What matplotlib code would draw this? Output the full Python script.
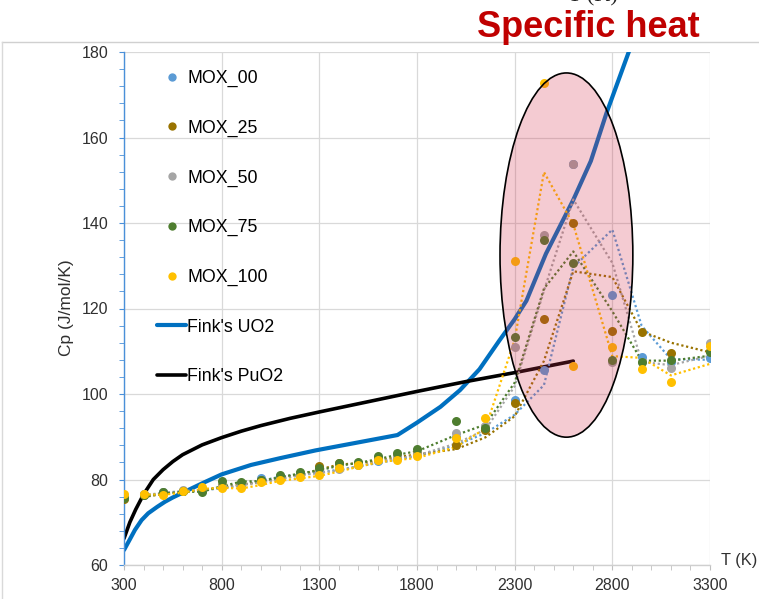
import matplotlib

matplotlib.use("Agg")
import matplotlib.pyplot as plt  # noqa: E402
import pandas as pd  # noqa: E402
from matplotlib.lines import Line2D  # noqa: E402
from matplotlib.patches import Ellipse  # noqa: E402

# measured temperatures (K)
temps = [300, 400, 500, 600, 700, 800, 900, 1000, 1100, 1200, 1300, 1400, 1500,
         1600, 1700, 1800, 2000, 2150, 2300, 2450, 2600, 2800, 2950, 3100, 3300]

# Cp (J/mol/K) for each MOX composition
mox_00 = [76.0, 76.6, 77.0, 77.4, 77.6, 78.3, 79.0, 80.4, 80.9, 81.3, 81.9, 82.7, 83.4,
          84.3, 85.0, 86.0, 90.0, 91.7, 98.6, 105.6, 153.7, 123.2, 108.7, 107.6, 108.4]
mox_25 = [75.4, 76.4, 76.8, 77.3, 77.8, 78.6, 79.0, 79.8, 80.7, 81.5, 83.2, 83.8, 83.8,
          84.9, 85.6, 86.1, 88.1, 91.6, 98.0, 117.5, 139.9, 114.8, 114.5, 109.5, 110.0]
mox_50 = [75.9, 76.7, 77.1, 77.5, 77.6, 78.4, 79.0, 79.6, 80.6, 81.3, 81.8, 82.4, 83.8,
          84.6, 85.2, 86.0, 90.8, 92.5, 111.1, 137.2, 153.8, 107.5, 107.5, 106.0, 111.9]
mox_75 = [75.6, 76.4, 77.0, 77.2, 77.1, 79.7, 79.3, 80.0, 81.1, 81.7, 82.6, 83.8, 84.0,
          85.5, 86.1, 87.1, 93.7, 92.0, 113.3, 136.0, 130.7, 108.0, 107.6, 108.0, 109.9]
mox_100 = [76.5, 76.5, 76.4, 77.4, 78.2, 77.9, 77.9, 79.5, 79.9, 80.6, 81.1, 82.6, 83.4,
           84.6, 84.5, 85.6, 89.6, 94.3, 131.0, 172.8, 106.6, 111.1, 105.8, 102.9, 111.2]

series_names = ["MOX_00", "MOX_25", "MOX_50", "MOX_75", "MOX_100"]
series_colors = ["#5B9BD5", "#997300", "#A5A5A5", "#4E7D2F", "#FFC000"]

# Fink recommended curves
uo2_t = [300, 330, 356, 390, 424, 470, 510, 550, 600, 700, 800, 950, 1100, 1280, 1700,
         1800, 1920, 2020, 2120, 2220, 2300, 2360, 2460, 2600, 2690, 2770, 2900]
uo2_cp = [63.5, 66.0, 68.2, 70.5, 72.1, 73.6, 74.8, 75.8, 76.9, 79.1, 81.2, 83.4, 85.0,
          86.8, 90.4, 93.3, 97.0, 100.9, 105.8, 112.4, 117.5, 121.8, 132.8, 145.4, 154.5,
          165.7, 182.0]
puo2_t = [300, 330, 360, 400, 450, 500, 550, 600, 700, 800, 900, 1000, 1150, 1300, 1550,
          1800, 2050, 2300, 2600]
puo2_cp = [66.2, 70.0, 73.0, 76.5, 80.0, 82.3, 84.2, 85.8, 88.1, 89.8, 91.3, 92.6, 94.3,
           95.8, 98.2, 100.6, 102.9, 105.0, 107.7]

x_major = list(range(300, 3301, 500))
x_minor = list(range(300, 3301, 100))
y_major = list(range(60, 181, 20))
y_minor = list(range(60, 181, 4))

plt.rcParams["font.family"] = ["Liberation Sans", "DejaVu Sans"]

W, H = 759, 599
fig = plt.figure(figsize=(W / 100, H / 100), dpi=100)
ax = fig.add_axes([124 / W, 1 - 565 / H, (710 - 124) / W, (565 - 52) / H])

ax.set_xlim(300, 3300)
ax.set_ylim(60, 180)
ax.set_xticks(x_major)
ax.set_xticks(x_minor, minor=True)
ax.set_yticks(y_major)
ax.set_yticks(y_minor, minor=True)
ax.grid(True, which="major", color="#d9d9d9", linewidth=0.9)
ax.set_axisbelow(True)

for side in ("top", "right"):
    ax.spines[side].set_visible(False)
ax.spines["left"].set_color("#4a90d9")
ax.spines["left"].set_linewidth(1.0)
ax.spines["bottom"].set_color("#cfcfcf")
ax.spines["bottom"].set_linewidth(1.0)
ax.tick_params(axis="y", which="both", direction="out", length=3.5, color="#4a90d9",
               labelsize=11.5, labelcolor="#303030", pad=8)
ax.tick_params(axis="x", which="both", direction="out", length=3.5, color="#bfbfbf",
               labelsize=11.5, labelcolor="#303030", pad=6)

uo2_line, = ax.plot(uo2_t, uo2_cp, color="#0070C0", linewidth=3.0, zorder=2,
                    label="Fink's UO2", solid_capstyle="round")
puo2_line, = ax.plot(puo2_t, puo2_cp, color="black", linewidth=2.6, zorder=2,
                     label="Fink's PuO2", solid_capstyle="round")

handles = []
for name, color, vals in zip(series_names, series_colors,
                             [mox_00, mox_25, mox_50, mox_75, mox_100]):
    # two-period moving-average trendline, as in the source spreadsheet
    trend = pd.Series(vals, index=temps).rolling(2).mean()
    ax.plot(trend.index, trend.values, color=color, linewidth=1.6,
            linestyle=(0, (1, 1.2)), zorder=3)
    ax.plot(temps, vals, "o", color=color, markersize=6.5, markeredgewidth=0, zorder=4)
    handles.append(Line2D([], [], marker="o", linestyle="none", color=color,
                          markersize=6, markeredgewidth=0, label=name))
handles += [uo2_line, puo2_line]

ax.add_patch(Ellipse((2565, 132.5), 680, 85.2, facecolor=(0.83, 0.19, 0.30, 0.25),
                     edgecolor="black", linewidth=1.2, zorder=6, clip_on=False))

ax.legend(handles=handles, loc="upper left", bbox_to_anchor=(157 / W, 1 - 70 / H),
          bbox_transform=fig.transFigure, frameon=False, fontsize=12.8,
          borderpad=0, borderaxespad=0, handlelength=1.65, handletextpad=0.05,
          labelspacing=1.83)

fig.text(67 / W, 1 - 308 / H, "Cp (J/mol/K)", rotation=90, ha="center", va="center",
         fontsize=12.5, color="#303030")
fig.text(721 / W, 1 - 560 / H, "T (K)", ha="left", va="center", fontsize=11.8,
         color="#303030")

# slide remnants: frame edges, cut-off caption and red heading
fig.add_artist(Line2D([1.5 / W, 1], [1 - 41.7 / H, 1 - 41.7 / H], color="#d0d0d0",
                      linewidth=1.0, transform=fig.transFigure))
fig.add_artist(Line2D([1.5 / W, 1.5 / W], [0, 1 - 41.7 / H], color="#d9d9d9",
                      linewidth=1.0, transform=fig.transFigure))
fig.text(593 / W, 1 - 6 / H, "T (K)", ha="center", va="bottom", fontsize=16,
         family="Liberation Serif", color="#222222")
fig.text(477 / W, 1 - 36.7 / H, "Specific heat", ha="left", va="baseline",
         fontsize=26, fontweight="bold", color="#C00000")

fig.savefig("out.png", dpi=100)
